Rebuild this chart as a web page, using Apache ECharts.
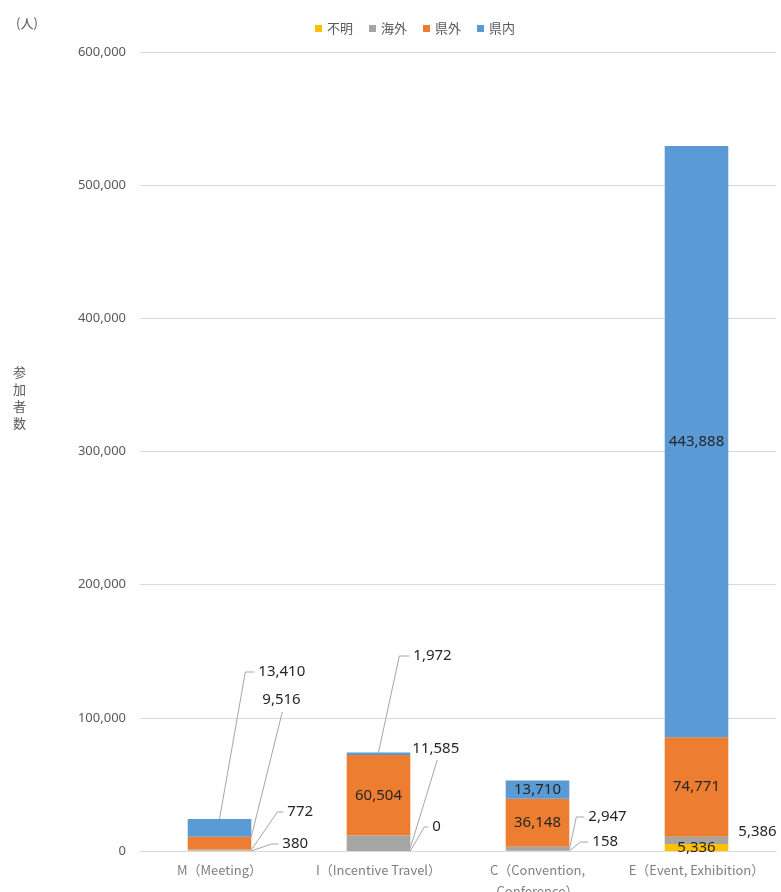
<!DOCTYPE html>
<html>
<head>
<meta charset="utf-8">
<script src="https://cdn.jsdelivr.net/npm/echarts@6/dist/echarts.min.js"></script>
<style>
  html, body { margin: 0; padding: 0; background: #ffffff; }
  #chart { width: 781px; height: 892px; }
</style>
</head>
<body>
<div id="chart"></div>
<script>
// Participants by MICE type, split by origin
const categories = ['M（Meeting）', 'I（Incentive Travel）', 'C（Convention,\nConference）', 'E（Event, Exhibition）'];
const unknownCounts   = [380, 0, 158, 5336];        // 不明
const overseasCounts  = [772, 11585, 2947, 5386];   // 海外
const otherPrefCounts = [9516, 60504, 36148, 74771]; // 県外
const inPrefCounts    = [13410, 1972, 13710, 443888]; // 県内
const yTicks = [0, 100000, 200000, 300000, 400000, 500000, 600000];

const seriesNames  = ['不明', '海外', '県外', '県内'];
const seriesValues = [unknownCounts, overseasCounts, otherPrefCounts, inPrefCounts];
const seriesColors = ['#FFC000', '#A5A5A5', '#ED7D31', '#5B9BD5'];

// Segments whose value is printed inside the bar (category indexes per series)
const insideLabelled = [[3], [], [1, 2, 3], [2, 3]];

// Call-out labels placed beside the bars.
// s: series, c: category, dx: label left from bar right edge (px),
// dy: label centre above the zero line (px), ax/at: anchor on the segment
// (0..1 across the bar, 0..1 from segment bottom to top), stub: horizontal
// tick length left of the label, below: line leaves from under the label.
const callouts = [
  { s: 3, c: 0, dx: 7,  dy: 179, ax: 0.5, at: 1,   stub: 9 },
  { s: 2, c: 0, dx: 11, dy: 151, ax: 1,   at: 1,   below: [20, 12] },
  { s: 1, c: 0, dx: 36, dy: 39,  ax: 1,   at: 0.5, stub: 6 },
  { s: 0, c: 0, dx: 31, dy: 7,   ax: 1,   at: 0,   stub: 7 },
  { s: 3, c: 1, dx: 3,  dy: 195, ax: 0.5, at: 1,   stub: 10 },
  { s: 1, c: 1, dx: 2,  dy: 102, ax: 1,   at: 0.2, below: [25, 11] },
  { s: 0, c: 1, dx: 22, dy: 24,  ax: 1,   at: 0,   stub: 4 },
  { s: 1, c: 2, dx: 19, dy: 34,  ax: 1,   at: 0.3, stub: 8 },
  { s: 0, c: 2, dx: 23, dy: 9,   ax: 1,   at: 0,   stub: 8 },
  { s: 1, c: 3, dx: 10, dy: 19 }
];

const BAR_RATIO = 0.4;
const LABEL_FONT = 'Noto Sans';
const CJK_FONT = 'Noto Sans CJK JP';
const fmt = v => Number(v).toLocaleString('en-US');

const chart = echarts.init(document.getElementById('chart'), null, { renderer: 'canvas' });

const barSeries = seriesNames.map((name, si) => ({
  name: name,
  type: 'bar',
  stack: 'total',
  barWidth: (BAR_RATIO * 100) + '%',
  itemStyle: { color: seriesColors[si] },
  label: {
    show: false,
    position: 'inside',
    color: '#262626',
    fontSize: 15,
    fontFamily: LABEL_FONT,
    formatter: p => fmt(p.value)
  },
  emphasis: { disabled: true },
  data: seriesValues[si].map((v, ci) => ({
    value: v,
    label: { show: insideLabelled[si].indexOf(ci) !== -1 }
  }))
}));

const calloutSeries = {
  type: 'custom',
  silent: true,
  z: 5,
  data: callouts.map(co => [co.c, 0]),
  renderItem: function (params, api) {
    const co = callouts[params.dataIndex];
    const barW = api.size([1, 0])[0] * BAR_RATIO;
    const zero = api.coord([co.c, 0]);
    const left = zero[0] - barW / 2;
    let base = 0;
    for (let i = 0; i < co.s; i++) base += seriesValues[i][co.c];
    const val = seriesValues[co.s][co.c];
    const yBot = api.coord([co.c, base])[1];
    const yTop = api.coord([co.c, base + val])[1];
    const lx = left + barW + co.dx;
    const ly = zero[1] - co.dy;
    const anchor = [left + barW * co.ax, yBot + (yTop - yBot) * co.at];
    const children = [{
      type: 'text',
      style: {
        text: fmt(val), x: lx, y: ly,
        textAlign: 'left', textVerticalAlign: 'middle',
        fill: '#262626', fontSize: 15, fontFamily: LABEL_FONT
      }
    }];
    let pts = null;
    if (co.stub) {
      const sx = lx - 4;
      pts = [[sx, ly], [sx - co.stub, ly], anchor];
    } else if (co.below) {
      pts = [[lx + co.below[0], ly + co.below[1]], anchor];
    }
    if (pts) {
      children.unshift({
        type: 'polyline',
        shape: { points: pts },
        style: { stroke: '#a6a6a6', lineWidth: 1, fill: null }
      });
    }
    return { type: 'group', children: children };
  }
};

chart.setOption({
  backgroundColor: '#ffffff',
  animation: false,
  textStyle: { fontFamily: CJK_FONT },
  legend: {
    data: seriesNames,
    left: 310,
    top: 17,
    icon: 'rect',
    itemWidth: 7,
    itemHeight: 7,
    itemGap: 16,
    textStyle: { color: '#595959', fontSize: 13, fontFamily: CJK_FONT }
  },
  grid: { left: 140, right: 5, top: 52, bottom: 41, containLabel: false, outerBoundsMode: 'none' },
  xAxis: {
    type: 'category',
    data: categories,
    axisLine: { lineStyle: { color: '#d9d9d9' } },
    axisTick: { show: false },
    axisLabel: {
      interval: 0,
      color: '#7f7f7f',
      fontSize: 13,
      lineHeight: 21,
      margin: 9,
      fontFamily: CJK_FONT
    }
  },
  yAxis: {
    type: 'value',
    min: yTicks[0],
    max: yTicks[yTicks.length - 1],
    interval: yTicks[1] - yTicks[0],
    axisLine: { show: false },
    axisTick: { show: false },
    splitLine: { lineStyle: { color: '#d9d9d9' } },
    axisLabel: {
      color: '#595959',
      fontSize: 13,
      margin: 14,
      fontFamily: LABEL_FONT,
      formatter: v => fmt(v)
    }
  },
  graphic: [
    {
      type: 'text', left: 16, top: 17,
      style: { text: '(人)', fill: '#595959', fontSize: 13, fontFamily: CJK_FONT }
    },
    {
      type: 'text', left: 13, top: 364,
      style: { text: '参\n加\n者\n数', fill: '#595959', fontSize: 13, lineHeight: 17, fontFamily: CJK_FONT }
    }
  ],
  series: barSeries.concat([calloutSeries])
});
</script>
</body>
</html>
